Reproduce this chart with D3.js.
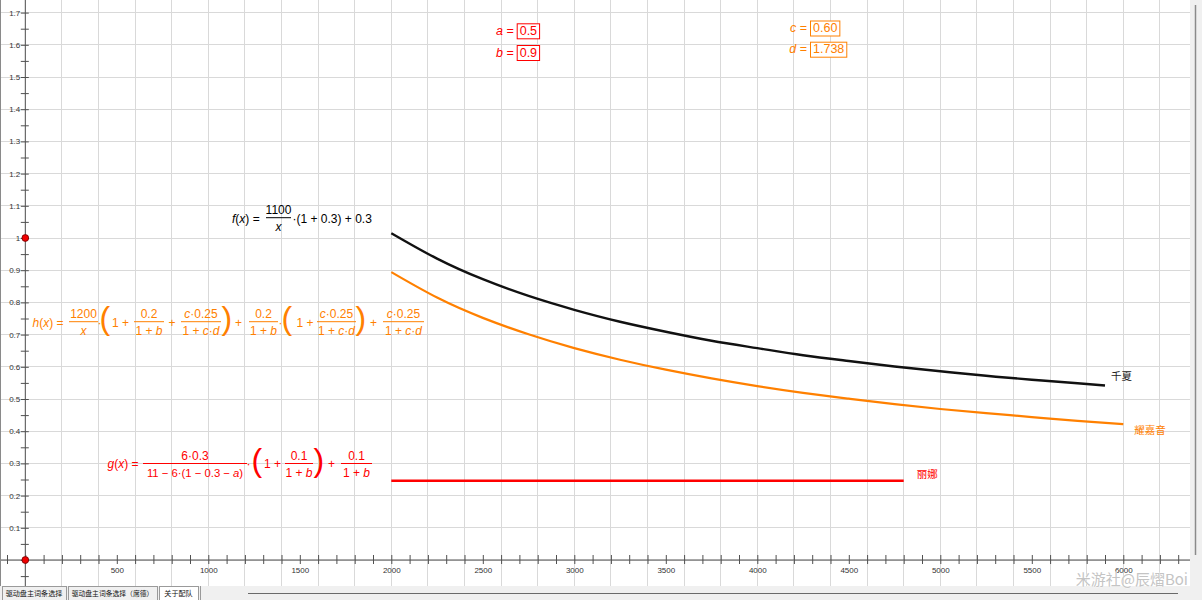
<!DOCTYPE html>
<html><head><meta charset="utf-8">
<script src="https://cdn.jsdelivr.net/npm/d3@7"></script>
<style>
html,body{margin:0;padding:0;background:#fff;overflow:hidden}
svg{display:block;font-family:"Liberation Sans",Arial,sans-serif}
text{white-space:pre}
</style></head><body>
<svg id="c" width="1202" height="600"></svg>
<script>
// ---------- data ----------
const xTickLabels = [500,1000,1500,2000,2500,3000,3500,4000,4500,5000,5500,6000];
const yTickLabels = [0.1,0.2,0.3,0.4,0.5,0.6,0.7,0.8,0.9,1,1.1,1.2,1.3,1.4,1.5,1.6,1.7];
const seriesNames = ["千夏","耀嘉音","丽娜"];
const qianxiaX = [2000,2250,2500,2750,3000,3250,3500,3750,4000,4250,4500,4750,5000,5250,5500,5750,5900];
const qianxiaY = [1.015,0.936,0.872,0.820,0.777,0.740,0.709,0.681,0.658,0.636,0.618,0.601,0.586,0.572,0.560,0.549,0.542];
const yaojiayinX = [2000,2250,2500,2750,3000,3250,3500,3750,4000,4250,4500,4750,5000,5250,5500,5750,6000];
const yaojiayinY = [0.894,0.815,0.752,0.701,0.658,0.622,0.591,0.564,0.540,0.519,0.501,0.484,0.469,0.456,0.444,0.432,0.422];
const linaX = [2000,4800];
const linaY = [0.246,0.246];
const pointsX = [0,0];
const pointsY = [1,0];
const sliderNames = ["a","b","c","d"];
const sliderValues = ["0.5","0.9","0.60","1.738"];
const tabNames = ["驱动盘主词条选择","驱动盘主词条选择（席德）","关于配队"];
const watermark = "米游社@辰熠Boi";

// ---------- setup ----------
const BLACK = "#000000", ORANGE = "#ff8000", RED = "#ff0000";
const svg = d3.select("#c");
const W = 1202, H = 600;
const plotR = 1190, plotB = 586;
const x = d3.scaleLinear().domain([0,6000]).range([25.3,1123.3]);
const y = d3.scaleLinear().domain([0,1]).range([560,238]);

svg.append("defs").append("clipPath").attr("id","clip")
  .append("rect").attr("x",1).attr("y",0).attr("width",plotR-1).attr("height",plotB);
const plot = svg.append("g").attr("clip-path","url(#clip)");

// grid
const gx = d3.range(-200, 6801, 200);
const gy = d3.range(-2, 19).map(d => d/10);
plot.append("g").selectAll("line").data(gx).join("line")
  .attr("x1", d => x(d)).attr("x2", d => x(d)).attr("y1",0).attr("y2",plotB)
  .attr("stroke","#d9d9d9").attr("stroke-width",1).attr("shape-rendering","crispEdges");
plot.append("g").selectAll("line").data(gy).join("line")
  .attr("y1", d => y(d)).attr("y2", d => y(d)).attr("x1",0).attr("x2",plotR)
  .attr("stroke","#d9d9d9").attr("stroke-width",1).attr("shape-rendering","crispEdges");

// axes lines
plot.append("line").attr("x1",0).attr("x2",plotR).attr("y1",y(0)).attr("y2",y(0))
  .attr("stroke","#505050").attr("stroke-width",1);
plot.append("line").attr("x1",x(0)).attr("x2",x(0)).attr("y1",0).attr("y2",plotB)
  .attr("stroke","#505050").attr("stroke-width",1);

// x axis ticks & labels
const xAxis = d3.axisBottom(x)
  .tickValues(d3.range(-100, 6501, 100))
  .tickSizeInner(4).tickSizeOuter(0).tickPadding(6)
  .tickFormat(d => xTickLabels.includes(d) ? String(d) : "");
const xg = plot.append("g").attr("transform",`translate(0,${y(0)})`).call(xAxis);
xg.select(".domain").remove();
xg.selectAll(".tick line").attr("y1",-5).attr("y2",4).attr("stroke","#505050");
xg.selectAll(".tick text").attr("font-size",8).attr("fill","#333")
  .attr("font-family","Liberation Sans, Arial, sans-serif").attr("dy","0.71em").attr("y",7);

// y axis ticks & labels
const yTicks = d3.range(-2, 37).map(d => d/20);
const yAxis = d3.axisLeft(y)
  .tickValues(yTicks).tickSizeInner(4).tickSizeOuter(0).tickPadding(5)
  .tickFormat(d => {
    const m = yTickLabels.find(v => Math.abs(v-d) < 1e-6);
    return m !== undefined ? String(m) : "";
  });
const yg = plot.append("g").attr("transform",`translate(${x(0)},0)`).call(yAxis);
yg.select(".domain").remove();
yg.selectAll(".tick line").attr("x1",-4.5).attr("x2",3.5).attr("stroke","#505050");
yg.selectAll(".tick text").attr("font-size",8).attr("fill","#333")
  .attr("font-family","Liberation Sans, Arial, sans-serif").attr("x",-5);

// curves
const line = d3.line().curve(d3.curveNatural);
function series(xs, ys, color, w) {
  plot.append("path")
    .attr("d", line(xs.map((v,i) => [x(v), y(ys[i])])))
    .attr("fill","none").attr("stroke",color).attr("stroke-width",w).attr("stroke-linecap","butt");
}
series(qianxiaX, qianxiaY, "#111", 2.4);
series(yaojiayinX, yaojiayinY, ORANGE, 2.2);
series(linaX, linaY, RED, 2.6);

// series labels
function lastPt(xs, ys){ return [x(xs[xs.length-1]), y(ys[ys.length-1])]; }
let p = lastPt(qianxiaX, qianxiaY);
plot.append("text").attr("x", p[0]+6).attr("y", p[1]-5).text(seriesNames[0])
  .attr("font-size",10.5).attr("fill","#222").attr("font-family","Noto Sans CJK SC");
p = lastPt(yaojiayinX, yaojiayinY);
plot.append("text").attr("x", p[0]+11).attr("y", p[1]+9.5).text(seriesNames[1])
  .attr("font-size",10.5).attr("fill",ORANGE).attr("font-family","Noto Sans CJK SC");
p = lastPt(linaX, linaY);
plot.append("text").attr("x", p[0]+13).attr("y", p[1]-3).text(seriesNames[2])
  .attr("font-size",10.5).attr("fill",RED).attr("font-family","Noto Sans CJK SC");

// points
plot.append("g").selectAll("circle").data(pointsX).join("circle")
  .attr("cx",(d)=>x(d)).attr("cy",(d,i)=>y(pointsY[i])).attr("r",3.4)
  .attr("fill","#f00000").attr("stroke","#700000").attr("stroke-width",0.8);

// ---------- formulas ----------
const FS = 12;
function mtext(g, x0, y0, str, color, size, anchor) {
  const t = g.append("text").attr("x",x0).attr("y",y0).attr("font-size",size||FS)
    .attr("fill",color).attr("text-anchor",anchor||"start");
  str.match(/[a-z]+|[^a-z]+/g).forEach(r =>
    t.append("tspan").text(r).attr("font-style", /[a-z]/.test(r) ? "italic" : "normal"));
  return t;
}
function frac(g, x1, x2, ly, num, den, color, dsize) {
  const cx = (x1+x2)/2;
  g.append("line").attr("x1",x1).attr("x2",x2).attr("y1",ly).attr("y2",ly)
    .attr("stroke",color).attr("stroke-width",1);
  mtext(g, cx, ly-4, num, color, FS, "middle");
  mtext(g, cx, ly+13.4, den, color, dsize || FS, "middle");
}
function paren(g, x0, ly, ch, color) {
  g.append("text").attr("x",x0).attr("y",ly+7.2).attr("font-size",32)
    .attr("fill",color).text(ch);
}
function formula(base, ly, color, items) {
  const g = plot.append("g");
  items.forEach(it => {
    if (it[0] === "t") mtext(g, it[1], base, it[2], color);
    else if (it[0] === "f") frac(g, it[1], it[2], ly, it[3], it[4], color, it[5]);
    else paren(g, it[1], ly, it[2], color);
  });
}
formula(222.5, 217.7, BLACK, [
  ["t", 232, "f(x) = "],
  ["f", 266, 291, "1100", "x"],
  ["t", 292.5, "·(1 + 0.3) + 0.3"]
]);
formula(326.5, 321.7, ORANGE, [
  ["t", 32.5, "h(x) = "],
  ["f", 69, 98, "1200", "x"],
  ["t", 97.5, "·"],
  ["p", 99.5, "("],
  ["t", 112, "1 + "],
  ["f", 134, 164, "0.2", "1 + b"],
  ["t", 168.5, "+"],
  ["f", 181, 221, "c·0.25", "1 + c·d"],
  ["p", 221.5, ")"],
  ["t", 235, "+"],
  ["f", 249, 278, "0.2", "1 + b"],
  ["t", 278.5, "·"],
  ["p", 281.5, "("],
  ["t", 296.5, "1 + "],
  ["f", 317, 356, "c·0.25", "1 + c·d"],
  ["p", 355.5, ")"],
  ["t", 370, "+"],
  ["f", 383, 424, "c·0.25", "1 + c·d"]
]);
formula(468, 463.5, RED, [
  ["t", 107.5, "g(x) = "],
  ["f", 143, 247, "6·0.3", "11 − 6·(1 − 0.3 − a)", 11.3],
  ["t", 246.5, "·"],
  ["p", 251.5, "("],
  ["t", 264, "1 + "],
  ["f", 285, 313, "0.1", "1 + b"],
  ["p", 313.5, ")"],
  ["t", 328, "+"],
  ["f", 341, 372, "0.1", "1 + b"]
]);

// ---------- sliders ----------
const sliderPos = [[516.7,23.3,RED],[516.7,45,RED],[810,20.5,ORANGE],[810,41.7,ORANGE]];
sliderNames.forEach((n,i) => {
  const [bx, by, col] = sliderPos[i];
  const g = plot.append("g");
  const t = g.append("text").attr("x", bx+3).attr("y", by+11.5).attr("font-size",12.5)
    .attr("fill",col).text(sliderValues[i]);
  const w = t.node().getComputedTextLength();
  g.insert("rect","text").attr("x",bx+0.5).attr("y",by+0.5).attr("width",w+5).attr("height",15)
    .attr("fill","#fff").attr("stroke",col).attr("stroke-width",1);
  mtext(g, bx-3, by+11.5, n + " =", col, 12.5, "end");
});

// ---------- chrome ----------
svg.append("line").attr("x1",0.5).attr("x2",0.5).attr("y1",0).attr("y2",plotB)
  .attr("stroke","#8a8a8a");
svg.append("rect").attr("x",plotR).attr("y",0).attr("width",W-plotR).attr("height",plotB)
  .attr("fill","#f0f0f0");
svg.append("line").attr("x1",1195.5).attr("x2",1195.5).attr("y1",5).attr("y2",555)
  .attr("stroke","#8a8a8a").attr("stroke-width",1.5);
svg.append("rect").attr("x",0).attr("y",plotB).attr("width",W).attr("height",H-plotB)
  .attr("fill","#f0f0f0");
const tabX = [[2,66],[68,157],[159,198]];
tabNames.forEach((n,i) => {
  const [a,b] = tabX[i];
  svg.append("rect").attr("x",a+0.5).attr("y",plotB+0.5).attr("width",b-a).attr("height",H-plotB)
    .attr("fill", i===2 ? "#ffffff" : "#f0f0f0").attr("stroke","#9a9a9a").attr("stroke-width",1);
  svg.append("text").attr("x",(a+b)/2).attr("y",plotB+10).attr("text-anchor","middle")
    .attr("font-size", i===1 ? 6.8 : 7.1).attr("fill","#111").attr("font-family","Noto Sans CJK SC").text(n);
});
svg.append("line").attr("x1",200.5).attr("x2",200.5).attr("y1",plotB).attr("y2",H).attr("stroke","#9a9a9a");
svg.append("line").attr("x1",248).attr("x2",1178).attr("y1",593.5).attr("y2",593.5)
  .attr("stroke","#6a6a6a").attr("stroke-width",1.2);

// watermark
svg.append("text").attr("x",1188).attr("y",585).attr("text-anchor","end")
  .attr("font-size",15).attr("font-family","Noto Sans CJK SC").attr("fill","#c4c4c4")
  .attr("stroke","#ffffff").attr("stroke-width",0.6).attr("paint-order","stroke")
  .text(watermark);
</script>
</body></html>
